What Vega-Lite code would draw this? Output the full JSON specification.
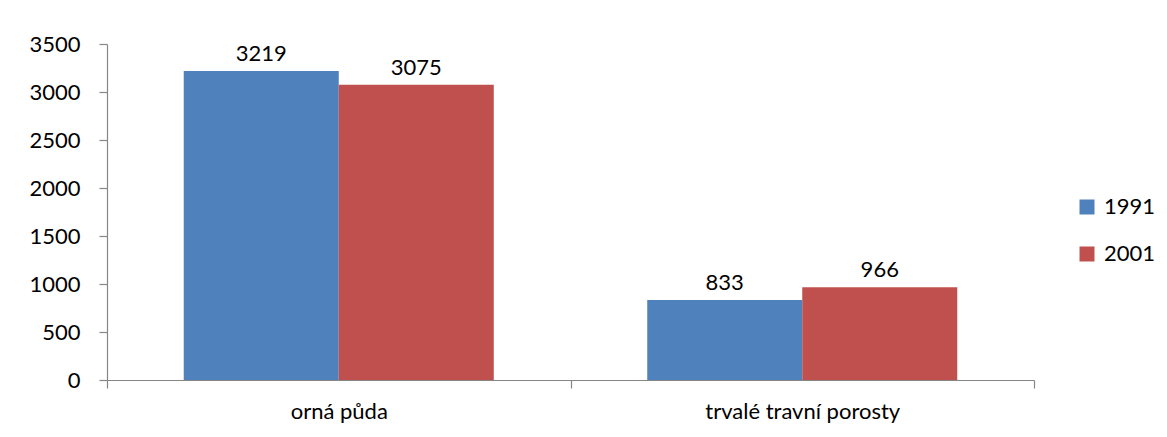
{
  "$schema": "https://vega.github.io/schema/vega-lite/v6.json",
  "width": 927,
  "height": 336,
  "autosize": {"type": "none"},
  "padding": {"left": 107, "top": 44, "right": 133, "bottom": 57},
  "background": "white",
  "config": {
    "view": {"stroke": null},
    "font": "Lato",
    "axis": {"domainColor": "#868686", "tickColor": "#868686", "labelColor": "#000000", "labelFont": "Lato", "labelFontSize": 22, "grid": false, "tickSize": 8, "domainWidth": 1.2, "tickWidth": 1.2}
  },
  "data": {
    "values": [
      {"kategorie": "orná půda", "rok": "1991", "hodnota": 3219},
      {"kategorie": "orná půda", "rok": "2001", "hodnota": 3075},
      {"kategorie": "trvalé travní porosty", "rok": "1991", "hodnota": 833},
      {"kategorie": "trvalé travní porosty", "rok": "2001", "hodnota": 966}
    ]
  },
  "encoding": {
    "x": {
      "field": "kategorie", "type": "nominal", "sort": null,
      "scale": {"paddingInner": 0, "paddingOuter": 0},
      "axis": {"title": null, "labelAngle": 0, "tickBand": "extent", "labelPadding": 13, "labelLimit": 400}
    },
    "xOffset": {"field": "rok", "type": "nominal", "scale": {"paddingInner": 0, "paddingOuter": 0.495}},
    "y": {
      "field": "hodnota", "type": "quantitative",
      "scale": {"domain": [0, 3500], "nice": false},
      "axis": {"title": null, "values": [0, 500, 1000, 1500, 2000, 2500, 3000, 3500], "format": "d", "labelPadding": 19}
    }
  },
  "layer": [
    {
      "mark": {"type": "bar"},
      "encoding": {
        "color": {
          "field": "rok", "type": "nominal",
          "scale": {"domain": ["1991", "2001"], "range": ["#4F81BD", "#C0504D"]},
          "legend": {"title": null, "orient": "none", "legendX": 969, "legendY": 152, "symbolType": "square", "symbolSize": 225, "symbolStrokeWidth": 0, "labelFontSize": 22, "labelFont": "Lato", "labelColor": "#000000", "rowPadding": 25, "labelOffset": 6, "symbolOpacity": 1}
        }
      }
    },
    {
      "mark": {"type": "text", "baseline": "bottom", "dy": -5, "fontSize": 22, "font": "Lato", "color": "#000000"},
      "encoding": {"text": {"field": "hodnota", "type": "quantitative", "format": "d"}}
    }
  ]
}
